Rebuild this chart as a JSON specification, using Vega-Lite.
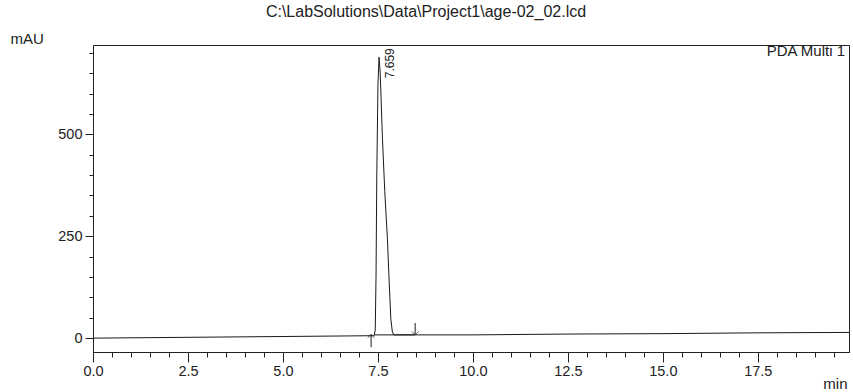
{
  "$schema": "https://vega.github.io/schema/vega-lite/v6.json",
  "autosize": {"type": "none"},
  "width": 756,
  "height": 307,
  "padding": {"left": 93, "top": 45, "right": 4, "bottom": 40},
  "background": "white",
  "title": {
    "text": "C:\\LabSolutions\\Data\\Project1\\age-02_02.lcd",
    "anchor": "middle",
    "dx": -45,
    "dy": 11,
    "offset": 9,
    "baseline": "alphabetic",
    "font": "Liberation Sans",
    "fontSize": 16,
    "fontWeight": "normal",
    "color": "#222"
  },
  "config": {
    "view": {"stroke": "#222", "strokeWidth": 1},
    "font": "Liberation Sans",
    "axis": {
      "domainColor": "#222",
      "tickColor": "#222",
      "labelColor": "#222",
      "titleColor": "#222",
      "labelFont": "Liberation Sans",
      "titleFont": "Liberation Sans",
      "labelFontSize": 14.5,
      "titleFontSize": 15,
      "titleFontWeight": "normal",
      "grid": false
    }
  },
  "datasets": {
    "signal": [
      {"t": 0.0, "mAU": 0},
      {"t": 2.5, "mAU": 2},
      {"t": 5.0, "mAU": 4},
      {"t": 7.4, "mAU": 6},
      {"t": 7.43, "mAU": 20},
      {"t": 7.45, "mAU": 150},
      {"t": 7.47, "mAU": 400},
      {"t": 7.5, "mAU": 620},
      {"t": 7.53, "mAU": 689},
      {"t": 7.56, "mAU": 650},
      {"t": 7.62, "mAU": 488},
      {"t": 7.68, "mAU": 360},
      {"t": 7.75, "mAU": 243},
      {"t": 7.8, "mAU": 130},
      {"t": 7.84, "mAU": 47},
      {"t": 7.88, "mAU": 15},
      {"t": 7.92, "mAU": 8},
      {"t": 10.0, "mAU": 8},
      {"t": 12.5, "mAU": 10},
      {"t": 15.0, "mAU": 11},
      {"t": 17.5, "mAU": 13},
      {"t": 19.9, "mAU": 14}
    ],
    "integ": [{"t": 7.42, "t2": 8.47, "mAU": 8}],
    "shafts": [
      {"t": 7.32, "mAU": -22, "mAU2": 9},
      {"t": 8.48, "mAU": 37, "mAU2": 8}
    ],
    "heads": [
      {"t": 7.32, "mAU": 9, "dir": "up"},
      {"t": 8.48, "mAU": 8, "dir": "down"}
    ],
    "peak": [{"t": 7.82, "mAU": 711, "label": "7.659"}],
    "channel": [{"t": 19.9, "mAU": 692, "label": "PDA Multi 1"}]
  },
  "encoding": {
    "x": {
      "field": "t", "type": "quantitative",
      "scale": {"domain": [0, 19.9], "nice": false, "zero": false},
      "axis": {
        "values": [0, 0.5, 1, 1.5, 2, 2.5, 3, 3.5, 4, 4.5, 5, 5.5, 6, 6.5, 7, 7.5, 8, 8.5, 9, 9.5, 10, 10.5, 11, 11.5, 12, 12.5, 13, 13.5, 14, 14.5, 15, 15.5, 16, 16.5, 17, 17.5, 18, 18.5, 19, 19.5],
        "labelExpr": "datum.value % 2.5 === 0 ? format(datum.value, '.1f') : ''",
        "tickSize": {"condition": {"test": "datum.value % 2.5 === 0", "value": 10}, "value": 5},
        "labelPadding": 2,
        "labelFlush": false,
        "labelOverlap": false,
        "title": "min",
        "titleAlign": "right",
        "titleBaseline": "alphabetic",
        "titleAnchor": "end",
        "titleX": 754,
        "titleY": 36
      }
    },
    "y": {
      "field": "mAU", "type": "quantitative",
      "scale": {"domain": [-34, 719], "nice": false, "zero": false},
      "axis": {
        "values": [0, 50, 100, 150, 200, 250, 300, 350, 400, 450, 500, 550, 600, 650, 700],
        "labelExpr": "datum.value % 250 === 0 ? datum.value : ''",
        "tickSize": {"condition": {"test": "datum.value % 250 === 0", "value": 8}, "value": 4},
        "labelPadding": 3,
        "labelOverlap": false,
        "labelFlush": false,
        "title": "mAU",
        "titleAngle": 0,
        "titleAlign": "left",
        "titleBaseline": "alphabetic",
        "titleX": -83,
        "titleY": -2
      }
    }
  },
  "layer": [
    {
      "data": {"name": "signal"},
      "mark": {"type": "line", "color": "#1a1a1a", "strokeWidth": 1, "clip": true}
    },
    {
      "data": {"name": "integ"},
      "mark": {"type": "rule", "color": "#1a1a1a", "strokeWidth": 1},
      "encoding": {
        "x2": {"field": "t2"}
      }
    },
    {
      "data": {"name": "shafts"},
      "mark": {"type": "rule", "color": "#1a1a1a", "strokeWidth": 1},
      "encoding": {
        "y2": {"field": "mAU2"}
      }
    },
    {
      "data": {"name": "heads"},
      "mark": {"type": "point", "filled": false, "color": "#1a1a1a", "strokeWidth": 1, "size": 45},
      "encoding": {
        "shape": {
          "field": "dir", "type": "nominal",
          "scale": {"domain": ["up", "down"], "range": ["M-1,1L0,0L1,1", "M-1,-1L0,0L1,-1"]},
          "legend": null
        }
      }
    },
    {
      "data": {"name": "peak"},
      "mark": {"type": "text", "angle": 270, "align": "right", "baseline": "middle", "fontSize": 12, "font": "Liberation Sans", "color": "#222"},
      "encoding": {
        "text": {"field": "label"}
      }
    },
    {
      "data": {"name": "channel"},
      "mark": {"type": "text", "align": "right", "baseline": "alphabetic", "dx": -4, "fontSize": 15, "font": "Liberation Sans", "color": "#222"},
      "encoding": {
        "text": {"field": "label"}
      }
    }
  ]
}
